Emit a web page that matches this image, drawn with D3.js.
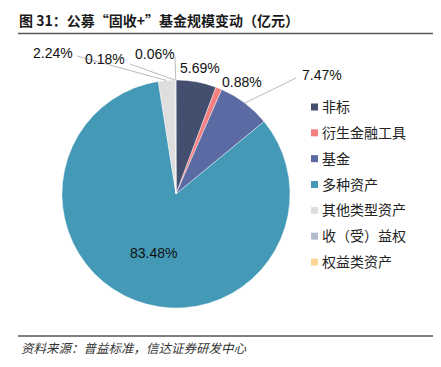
<!DOCTYPE html>
<html>
<head>
<meta charset="utf-8">
<script src="https://cdn.jsdelivr.net/npm/d3@7"></script>
<style>
  html, body { margin: 0; padding: 0; background: #fff; }
  svg { display: block; }
</style>
</head>
<body>
<svg id="chart" width="441" height="367"></svg>
<script>
// data
const categories = ['非标', '衍生金融工具', '基金', '多种资产', '其他类型资产', '收（受）益权', '权益类资产'];
const shares = [5.69, 0.88, 7.47, 83.48, 2.24, 0.18, 0.06];
const colors = ['#444e6f', '#f47f7f', '#5b6aa2', '#4399b6', '#dedede', '#b2bdcf', '#fdd494'];

// label placement (text anchor point, start-aligned) per slice
const labelAt = [[180, 73], [222, 87], [302, 80], null, [33, 58], [85, 64], [135, 59]];
// where the leader line leaves the label
const leaderFrom = [null, null, [296, 78], null, [77, 56], [130, 64], [175, 57]];

const svg = d3.select('#chart');
const cx = 176, cy = 194, r = 114;

// title
svg.append('text')
  .attr('x', 19).attr('y', 26)
  .attr('font-family', '"Noto Sans CJK SC", sans-serif')
  .attr('font-weight', 'bold')
  .attr('font-size', 14)
  .attr('fill', '#1a1a1a')
  .text('图 31：公募“固收+”基金规模变动（亿元）');

svg.append('line')
  .attr('x1', 18).attr('x2', 433).attr('y1', 33.5).attr('y2', 33.5)
  .attr('stroke', '#555').attr('stroke-width', 1.5);

svg.append('line')
  .attr('x1', 18).attr('x2', 433).attr('y1', 336).attr('y2', 336)
  .attr('stroke', '#555').attr('stroke-width', 1.5);

svg.append('text')
  .attr('x', 21).attr('y', 353)
  .attr('font-family', '"Noto Sans CJK SC", sans-serif')
  .attr('font-style', 'italic')
  .attr('font-size', 12.5)
  .attr('fill', '#333')
  .text('资料来源：普益标准，信达证券研发中心');

// pie
const pie = d3.pie().sort(null).value(d => d);
const arcs = pie(shares);
const arc = d3.arc().innerRadius(0).outerRadius(r);
const g = svg.append('g').attr('transform', `translate(${cx},${cy})`);

g.selectAll('path')
  .data(arcs)
  .join('path')
  .attr('d', arc)
  .attr('fill', (d, i) => colors[i])
  .attr('stroke', '#fff')
  .attr('stroke-width', 0.4);

// leader lines
const edge = d3.arc().innerRadius(r).outerRadius(r);
arcs.forEach((d, i) => {
  if (!leaderFrom[i]) return;
  const [ex, ey] = edge.centroid(d);
  svg.append('line')
    .attr('x1', leaderFrom[i][0]).attr('y1', leaderFrom[i][1])
    .attr('x2', cx + ex).attr('y2', cy + ey)
    .attr('stroke', '#bbb').attr('stroke-width', 1);
});

// labels
const fmt = v => v.toFixed(2) + '%';
arcs.forEach((d, i) => {
  const t = svg.append('text')
    .attr('font-family', '"Liberation Sans", Arial, sans-serif')
    .attr('font-size', 14)
    .attr('fill', '#111')
    .text(fmt(shares[i]));
  if (labelAt[i]) {
    t.attr('x', labelAt[i][0]).attr('y', labelAt[i][1]);
  } else {
    const [mx, my] = d3.arc().innerRadius(r * 0.55).outerRadius(r * 0.55).centroid(d);
    t.attr('x', cx + mx).attr('y', cy + my + 5).attr('text-anchor', 'middle');
  }
});

// legend
const legend = svg.append('g');
const ly = d3.scalePoint().domain(categories).range([107, 262]);
categories.forEach((c, i) => {
  legend.append('rect')
    .attr('x', 311).attr('y', ly(c) - 3.5)
    .attr('width', 7).attr('height', 7)
    .attr('fill', colors[i]);
  legend.append('text')
    .attr('x', 322).attr('y', ly(c) + 5)
    .attr('font-family', '"Noto Sans CJK SC", sans-serif')
    .attr('font-size', 14)
    .attr('fill', '#222')
    .text(c);
});
</script>
</body>
</html>
